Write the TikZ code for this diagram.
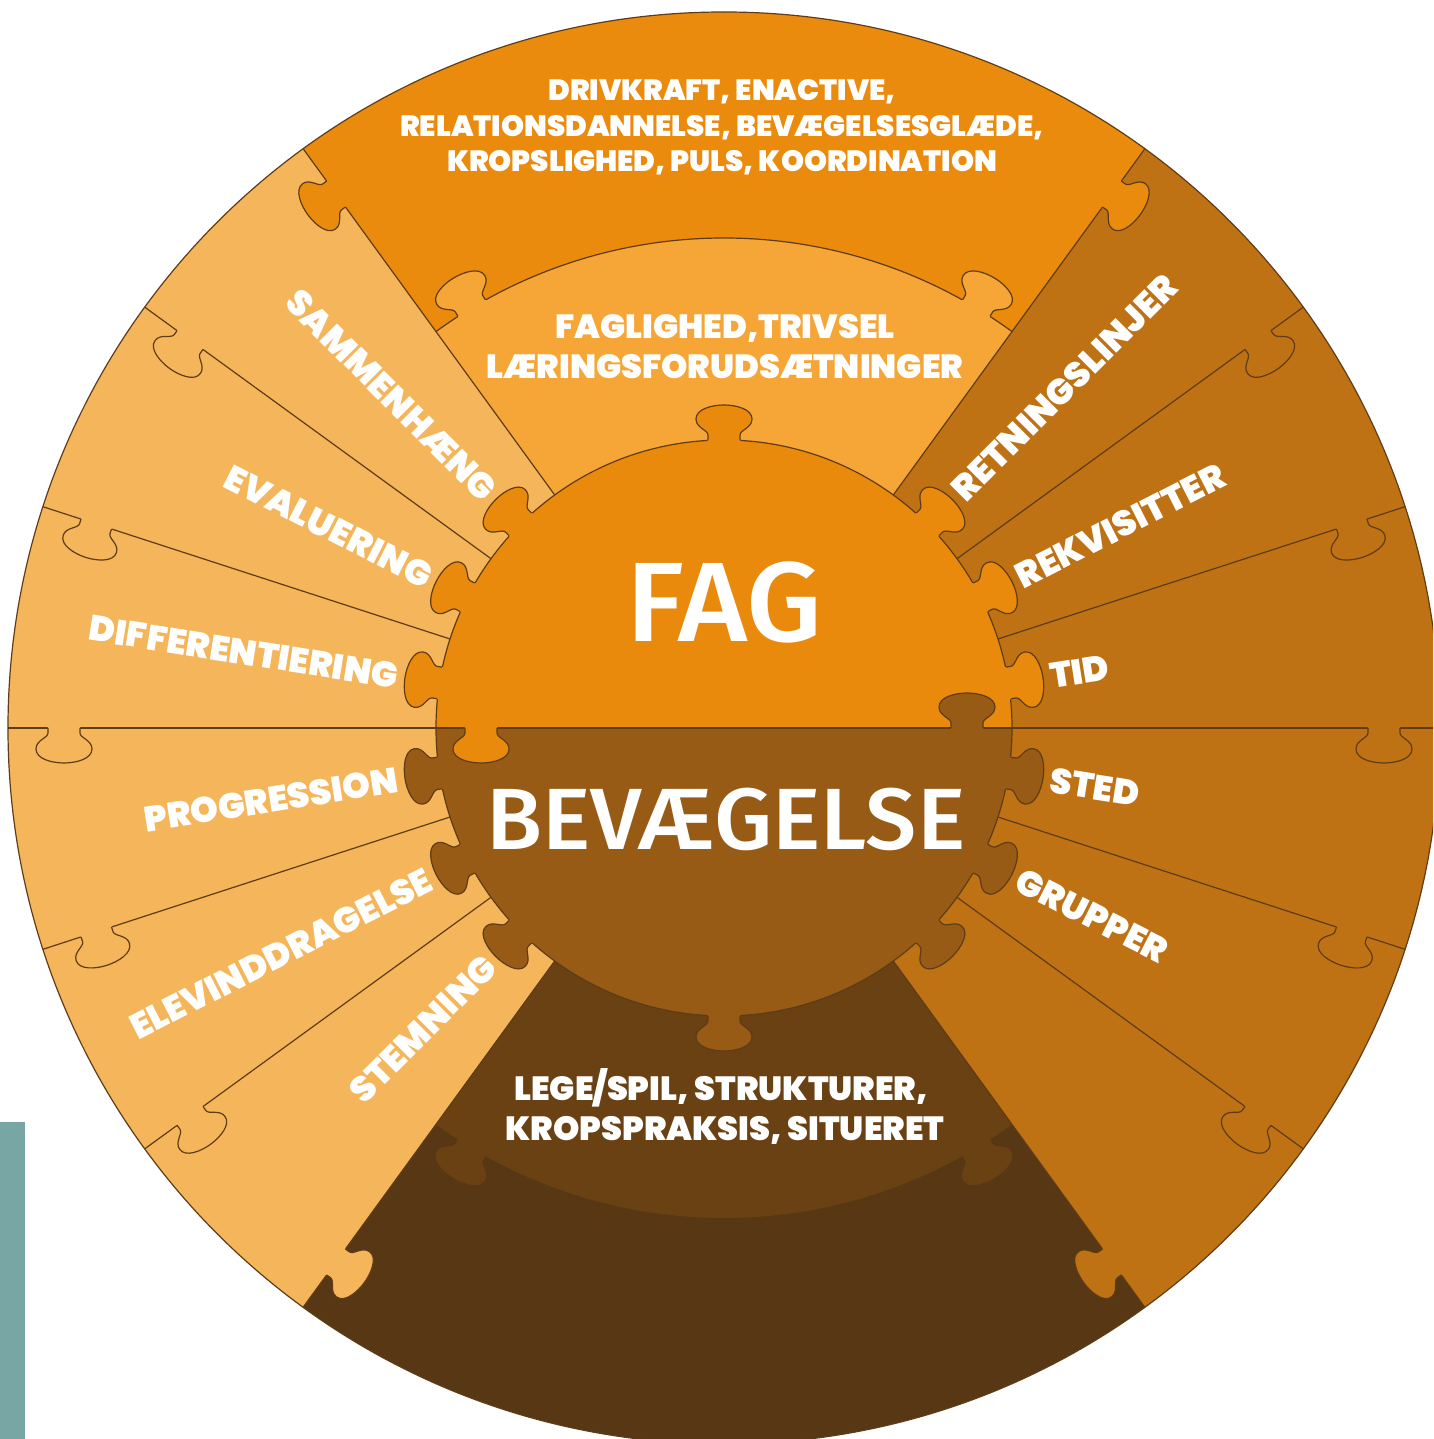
\documentclass[tikz,border=0pt]{standalone}
\usepackage{fontspec}
\newfontfamily\lblfont{Poppins Black}
\newfontfamily\bigfont{Fira Sans}[UprightFont={* Medium}, FakeStretch=1.05]
\definecolor{topc}{HTML}{EB8B0D}
\definecolor{bandc}{HTML}{F5A637}
\definecolor{leftc}{HTML}{F5B55A}
\definecolor{rightc}{HTML}{BF7214}
\definecolor{botc}{HTML}{583714}
\definecolor{botband}{HTML}{6A4113}
\definecolor{hubtop}{HTML}{EA8A0C}
\definecolor{hubbot}{HTML}{985B16}
\definecolor{linec}{HTML}{5E3C17}
\definecolor{tealc}{HTML}{78A6A4}
\tikzset{
  kline/.style={draw=linec, line width=1.2pt, line join=round},
  lbl/.style={text=white, inner sep=0pt, font=\lblfont\fontsize{35.5}{35.5}\selectfont},
  toptxt/.style={text=white, inner sep=0pt, anchor=base, font=\lblfont\fontsize{29.3}{29.3}\selectfont},
  midtxt/.style={text=white, inner sep=0pt, anchor=base, font=\lblfont\fontsize{33.5}{33.5}\selectfont},
  bigtxt/.style={text=white, inner sep=0pt, anchor=base}
}
\newcommand\pknob[4]{%
  \begin{scope}[shift={#1}, rotate=#2-90]
    \fill[#3] (-18,-5) -- (-16,0) -- (-16,5) .. controls (-16,10) and (-28,12) .. (-28,21) .. controls (-28,31) and (-12,35) .. (0,35) .. controls (12,35) and (28,31) .. (28,21) .. controls (28,12) and (16,10) .. (16,5) -- (16,0) -- (18,-5) -- cycle;
    \draw[#4] (-16,0) -- (-16,5) .. controls (-16,10) and (-28,12) .. (-28,21) .. controls (-28,31) and (-12,35) .. (0,35) .. controls (12,35) and (28,31) .. (28,21) .. controls (28,12) and (16,10) .. (16,5) -- (16,0);
  \end{scope}}
\begin{document}
\begin{tikzpicture}[x=1pt,y=1pt]
\useasboundingbox (-724,-711) rectangle (709,728);
\clip (-724,-711) rectangle (709,728);
% outer sectors
\fill[topc] (0,0) -- (54:716) arc[start angle=54, end angle=126, radius=716] -- cycle;
\fill[leftc] (0,0) -- (126:716) arc[start angle=126, end angle=234, radius=716] -- cycle;
\fill[botc] (0,0) -- (234:716) arc[start angle=234, end angle=306, radius=716] -- cycle;
\fill[rightc] (0,0) -- (-54:716) arc[start angle=-54, end angle=54, radius=716] -- cycle;
% inner bands
\fill[bandc] (0,0) -- (54:490) arc[start angle=54, end angle=126, radius=490] -- cycle;
\fill[botband] (0,0) -- (234:490) arc[start angle=234, end angle=306, radius=490] -- cycle;
% outlines
\draw[kline] (0,0) circle[radius=716];
\foreach \a in {126,144,162,198,216,234,54,36,18,-18,-36,-54}
  \draw[kline] (\a:288) -- (\a:716);
\draw[kline] (-716,0) -- (716,0);
\draw[kline] (54:490) arc[start angle=54, end angle=126, radius=490];
% outer knobs
\foreach \a/\c in {126/topc,144/leftc,162/leftc,180/leftc,198/leftc,216/leftc,234/leftc}
  {\pknob{(\a:660)}{\a+90}{\c}{kline}}
\foreach \a/\c in {54/topc,36/rightc,18/rightc,0/rightc,-18/rightc,-36/rightc,-54/rightc}
  {\pknob{(\a:660)}{\a-90}{\c}{kline}}
% band knobs
\pknob{(121:490)}{121}{bandc}{kline}
\pknob{(59:490)}{59}{bandc}{kline}
\pknob{(239:490)}{239}{botband}{draw=none}
\pknob{(301:490)}{301}{botband}{draw=none}
% hub
\fill[hubtop] (288,0) arc[start angle=0, end angle=180, radius=288] -- cycle;
\fill[hubbot] (-288,0) arc[start angle=180, end angle=360, radius=288] -- cycle;
\draw[kline] (0,0) circle[radius=288];
\draw[kline] (-288,0) -- (288,0);
\foreach \a in {90,135,153,171,45,27,9}
  {\pknob{(\a:288)}{\a}{hubtop}{kline}}
\foreach \a in {270,189,207,225,-9,-27,-45}
  {\pknob{(\a:288)}{\a}{hubbot}{kline}}
\pknob{(-243,0)}{270}{hubtop}{kline}
\pknob{(243,0)}{90}{hubbot}{kline}
% teal bar
\fill[tealc] (-724,-394) rectangle (-699,-711);
% texts
\node[toptxt] (t1) at (-2,627) {DRIVKRAFT, ENACTIVE,};
\node[toptxt] (t2) at (-2,591) {RELATIONSDANNELSE, BEVÆGELSESGLÆDE,};
\node[toptxt] (t3) at (-2,556) {KROPSLIGHED, PULS, KOORDINATION};
\node[midtxt] (m1) at (1,389) {FAGLIGHED,TRIVSEL};
\node[midtxt] (m2) at (1,349) {LÆRINGSFORUDSÆTNINGER};
\node[midtxt] (b1) at (-3,-372) {LEGE/SPIL, STRUKTURER,};
\node[midtxt] (b2) at (1,-412) {KROPSPRAKSIS, SITUERET};
\node[bigtxt, font=\bigfont\fontsize{113}{113}\selectfont] (fag) at (0,86) {FAG};
\node[bigtxt, font=\bigfont\fontsize{87}{87}\selectfont] (bev) at (2,-122) {BEVÆGELSE};
\node[lbl, anchor=east, rotate=-45] (l1) at (135:330) {SAMMENHÆNG};
\node[lbl, anchor=east, rotate=-27] (l2) at (153:330) {EVALUERING};
\node[lbl, anchor=east, rotate=-9] (l3) at (171:330) {DIFFERENTIERING};
\node[lbl, anchor=east, rotate=9] (l4) at (189:330) {PROGRESSION};
\node[lbl, anchor=east, rotate=27] (l5) at (207:330) {ELEVINDDRAGELSE};
\node[lbl, anchor=east, rotate=45] (l6) at (225:330) {STEMNING};
\node[lbl, anchor=west, rotate=45] (r1) at (45:330) {RETNINGSLINJER};
\node[lbl, anchor=west, rotate=27] (r2) at (27:330) {REKVISITTER};
\node[lbl, anchor=west, rotate=9] (r3) at (9:330) {TID};
\node[lbl, anchor=west, rotate=-9] (r4) at (-9:330) {STED};
\node[lbl, anchor=west, rotate=-27] (r5) at (-27:330) {GRUPPER};
\end{tikzpicture}
\end{document}
